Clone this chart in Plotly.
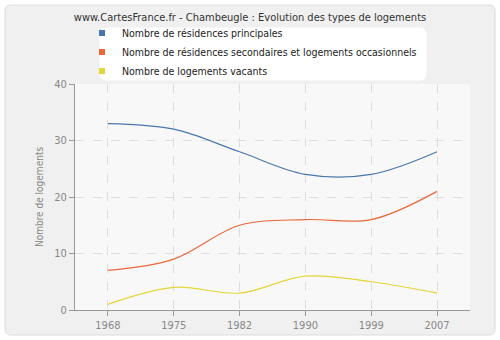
import plotly.graph_objects as go

years = ["1968", "1975", "1982", "1990", "1999", "2007"]
principales = [33, 32, 28, 24, 24, 28]
secondaires = [7, 9, 15, 16, 16, 21]
vacants = [1, 4, 3, 6, 5, 3]

names = ["Nombre de résidences principales",
         "Nombre de résidences secondaires et logements occasionnels",
         "Nombre de logements vacants"]
colors = ["#4a77aa", "#e8693b", "#e2d63a"]
series = [principales, secondaires, vacants]

FONT = "DejaVu Sans Condensed, DejaVu Sans"
fig = go.Figure()
for s, c, n in zip(series, colors, names):
    fig.add_trace(go.Scatter(x=years, y=s, mode="lines", line=dict(color=c, width=1.2, shape="spline", smoothing=1),
                             showlegend=False, hoverinfo="skip", name=n))
for c, n in zip(colors, names):
    fig.add_trace(go.Scatter(x=[None], y=[None], mode="markers", marker=dict(symbol="square", size=6, color=c),
                             name=n, showlegend=True))

L, R, T, B = 75, 470, 84, 310
W, H = R - L, B - T
def px(x): return (x - L) / W
def py(y): return (B - y) / H

def rrect(x0, y0, x1, y1, r):
    X0, X1 = px(x0), px(x1)
    Y0, Y1 = py(y0), py(y1)
    rx, ry = r / W, r / H
    return (f"M {X0+rx},{Y0} L {X1-rx},{Y0} Q {X1},{Y0} {X1},{Y0-ry} L {X1},{Y1+ry} Q {X1},{Y1} {X1-rx},{Y1} "
            f"L {X0+rx},{Y1} Q {X0},{Y1} {X0},{Y1+ry} L {X0},{Y0-ry} Q {X0},{Y0} {X0+rx},{Y0} Z")

shapes = [
    dict(type="path", xref="paper", yref="paper", path=rrect(5, 5, 495, 335, 6),
         fillcolor="#f0f0f0", line=dict(color="#dcdcdc", width=1), layer="below"),
    dict(type="rect", xref="paper", yref="paper", x0=0, x1=1, y0=0, y1=1,
         fillcolor="#f8f8f8", line=dict(width=0), layer="below"),
    dict(type="path", xref="paper", yref="paper", path=rrect(100, 28, 426, 80, 6),
         fillcolor="#ffffff", line=dict(color="#ffffff", width=1), layer="below"),
]

fig.update_layout(
    width=500, height=340,
    margin=dict(l=L, r=500 - R, t=T, b=340 - B, autoexpand=False),
    paper_bgcolor="#ffffff", plot_bgcolor="#f8f8f8",
    font=dict(family=FONT, size=11, color="#333333"),
    title=dict(text="www.CartesFrance.fr - Chambeugle : Evolution des types de logements",
               x=0.5, xanchor="center", y=1 - 17 / 340, yanchor="middle",
               font=dict(family=FONT, size=11, color="#333333")),
    legend=dict(x=px(82), y=py(18.5), xanchor="left", yanchor="top", bgcolor="rgba(0,0,0,0)",
                font=dict(family=FONT, size=10.5, color="#222222"), itemwidth=30,
                tracegroupgap=0),
    shapes=shapes,
    xaxis=dict(type="category", range=[-0.5, 5.5], showline=True, linecolor="#999999", linewidth=1,
               ticks="outside", ticklen=5, tickcolor="#999999", showgrid=True, gridcolor="#dddddd",
               griddash="dash", gridwidth=1, tickfont=dict(color="#888888", size=11), zeroline=False,
               fixedrange=True),
    yaxis=dict(range=[0, 40], tickvals=[0, 10, 20, 30, 40], showline=True, linecolor="#999999", linewidth=1,
               ticks="outside", ticklen=5, tickcolor="#999999", showgrid=True, gridcolor="#dddddd",
               griddash="dash", gridwidth=1, tickfont=dict(color="#888888", size=11), zeroline=False,
               title=dict(text="Nombre de logements", font=dict(color="#888888", size=10), standoff=8)),
    showlegend=True,
)

fig.write_html("out.html")
